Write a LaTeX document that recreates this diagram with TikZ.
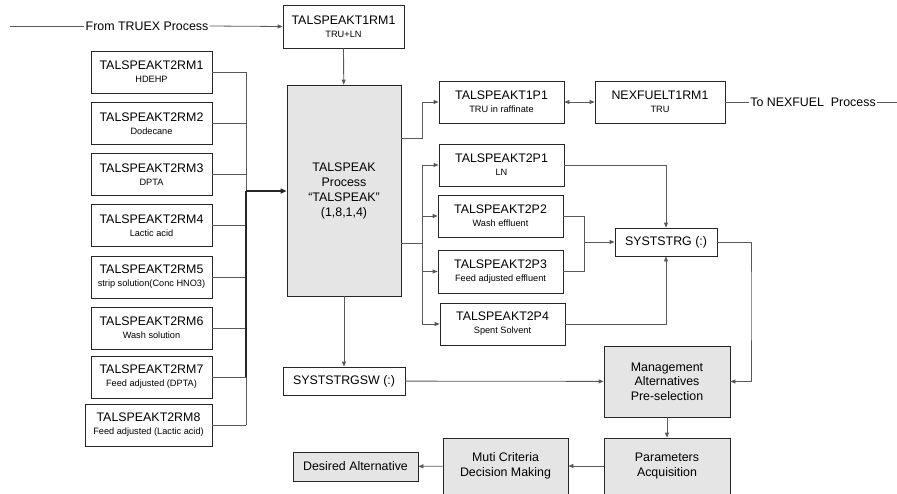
\documentclass[tikz,border=0pt]{standalone}
\usepackage{fontspec}
\setmainfont{Liberation Sans}
\usetikzlibrary{arrows.meta}
\newcommand{\subtxt}[1]{{\fontsize{9.2}{10}\selectfont #1}}
\begin{document}
\begin{tikzpicture}[x=1pt,y=-1pt,
  box/.style={draw=black!85, fill=white, line width=0.8pt, inner sep=0pt, align=center,
    minimum width=121pt, minimum height=42pt, font=\fontsize{12.4}{14}\selectfont},
  gbox/.style={box, fill=black!10},
  wire/.style={draw=black!65, line width=0.8pt},
  arr/.style={wire, -{Triangle[length=5pt,width=4pt]}},
  arrb/.style={wire, {Triangle[length=5pt,width=4pt]}-{Triangle[length=5pt,width=4pt]}},
  busline/.style={draw=black!85, line width=1.2pt},
  lbl/.style={inner sep=1pt, font=\fontsize{12.4}{14}\selectfont}]
\useasboundingbox (0,0) rectangle (897,493);
\clip (0,0) rectangle (897,493);

% feed from TRUEX
\coordinate (start) at (10,26);
\node[lbl] (truex) at (147,26) {From TRUEX Process};
\node[box, minimum height=43pt] (t1rm1) at (343.5,26.5) {TALSPEAKT1RM1\\[-1pt]\subtxt{TRU+LN}};
\draw[wire] (start) -- (truex.west);
\draw[arr] (truex.east) -- (t1rm1.west);

% main process
\node[gbox, minimum width=114pt, minimum height=211pt, font=\fontsize{12.4}{15}\selectfont] (proc) at (344,190.5)
  {TALSPEAK\\Process\\“TALSPEAK”\\(1,8,1,4)};
\draw[arr] (t1rm1) -- (proc);

% raw materials
\node[box] (rm1) at (151.5,72) {TALSPEAKT2RM1\\[-1pt]\subtxt{HDEHP}};
\node[box] (rm2) at (151.5,123.5) {TALSPEAKT2RM2\\[-1pt]\subtxt{Dodecane}};
\node[box] (rm3) at (151.5,174.5) {TALSPEAKT2RM3\\[-1pt]\subtxt{DPTA}};
\node[box] (rm4) at (151.5,225.5) {TALSPEAKT2RM4\\[-1pt]\subtxt{Lactic acid}};
\node[box] (rm5) at (151.5,277) {TALSPEAKT2RM5\\[-1pt]\subtxt{strip solution(Conc HNO3)}};
\node[box] (rm6) at (151.5,328) {TALSPEAKT2RM6\\[-1pt]\subtxt{Wash solution}};
\node[box] (rm7) at (151.5,377) {TALSPEAKT2RM7\\[-1pt]\subtxt{Feed adjusted (DPTA)}};
\node[box, minimum width=127pt] (rm8) at (148.5,425) {TALSPEAKT2RM8\\[-1pt]\subtxt{Feed adjusted (Lactic acid)}};
\coordinate (bus) at (246,191);
\draw[wire] (rm1.east) -- (rm1.east -| bus);
\draw[wire] (rm2.east) -- (rm2.east -| bus);
\draw[wire] (rm3.east) -- (rm3.east -| bus);
\draw[wire] (rm4.east) -- (rm4.east -| bus);
\draw[wire] (rm5.east) -- (rm5.east -| bus);
\draw[wire] (rm6.east) -- (rm6.east -| bus);
\draw[wire] (rm7.east) -- (rm7.east -| bus);
\draw[wire] (rm8.east) -- (rm8.east -| bus);
\draw[wire] (rm1.east -| bus) -- (rm8.east -| bus);
\draw[busline] (bus) -- (rm7.east -| bus);
\draw[busline, -{Triangle[length=6pt,width=5pt]}] (bus) -- (proc.west |- bus);

% products
\node[box, minimum width=125pt] (t1p1) at (501.5,102) {TALSPEAKT1P1\\[-1pt]\subtxt{TRU in raffinate}};
\node[box, minimum width=130pt] (nex) at (660,102) {NEXFUELT1RM1\\[-1pt]\subtxt{TRU}};
\node[lbl] (tonex) at (813,102) {To NEXFUEL\ \ Process};
\coordinate (end) at (897,102);
\coordinate (ja) at (422,138);
\draw[arr] (proc.east |- ja) -- (ja) |- (t1p1.west);
\draw[arrb] (t1p1) -- (nex);
\draw[wire] (nex.east) -- (tonex.west);
\draw[wire] (tonex.east) -- (end);

\node[box, minimum width=125pt] (p1) at (501.5,165) {TALSPEAKT2P1\\[-1pt]\subtxt{LN}};
\node[box, minimum width=125pt] (p2) at (500.5,216) {TALSPEAKT2P2\\[-1pt]\subtxt{Wash effluent}};
\node[box, minimum width=125pt, minimum height=43pt] (p3) at (500.5,271.5) {TALSPEAKT2P3\\[-1pt]\subtxt{Feed adjusted effluent}};
\node[box, minimum width=125pt] (p4) at (502.5,324) {TALSPEAKT2P4\\[-1pt]\subtxt{Spent Solvent}};
\coordinate (jb) at (422,243);
\draw[wire] (proc.east |- jb) -- (jb);
\draw[wire] (jb |- p1.west) -- (jb |- p4.west);
\draw[arr] (jb |- p1.west) -- (p1.west);
\draw[arr] (jb |- p2.west) -- (p2.west);
\draw[arr] (jb |- p3.west) -- (p3.west);
\draw[arr] (jb |- p4.west) -- (p4.west);

% storage
\node[box, minimum width=102pt, minimum height=28pt] (sys) at (666,242) {SYSTSTRG (:)};
\node[box, minimum width=122pt, minimum height=28pt] (sw) at (344,381) {SYSTSTRGSW (:)};
\coordinate (jc) at (584,242);
\draw[arr] (p1.east) -| (sys.north);
\draw[wire] (p2.east) -| (jc);
\draw[wire] (p3.east) -| (jc);
\draw[arr] (jc) -- (sys.west);
\draw[arr] (p4.east) -| (sys.south);
\draw[arr] (proc) -- (sw);

% decision steps
\node[gbox, minimum width=126pt, minimum height=71pt, font=\fontsize{12.4}{14.5}\selectfont] (mgmt) at (667,381.5)
  {Management\\Alternatives\\Pre-selection};
\node[gbox, minimum width=126pt, minimum height=56pt, font=\fontsize{12.4}{15}\selectfont] (param) at (667,466)
  {Parameters\\Acquisition};
\node[gbox, minimum width=125pt, minimum height=56pt, font=\fontsize{12.4}{15}\selectfont] (mcdm) at (505.5,466)
  {Muti Criteria\\Decision Making};
\node[gbox, minimum width=125pt, minimum height=29pt] (want) at (355.5,466.5) {Desired Alternative};
\coordinate (jd) at (751,300);
\draw[arr] (sys.east) -| (jd) |- (mgmt.east);
\draw[arr] (sw) -- (mgmt);
\draw[arr] (mgmt) -- (param);
\draw[arr] (param) -- (mcdm);
\draw[arr] (mcdm) -- (want);
\end{tikzpicture}
\end{document}
